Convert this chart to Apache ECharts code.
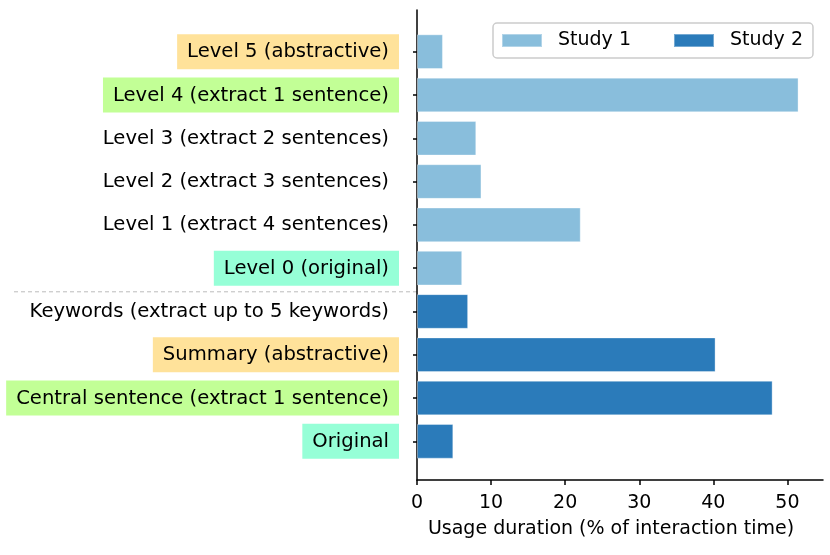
<!DOCTYPE html>
<html><head><meta charset="utf-8">
<script src="https://cdn.jsdelivr.net/npm/echarts@6/dist/echarts.min.js"></script>
<style>html,body{margin:0;padding:0;background:#fff}#c{width:830px;height:555px}</style>
</head><body><div id="c"></div>
<script>
// ---- data ----
const categories = [
  'Level 5 (abstractive)',
  'Level 4 (extract 1 sentence)',
  'Level 3 (extract 2 sentences)',
  'Level 2 (extract 3 sentences)',
  'Level 1 (extract 4 sentences)',
  'Level 0 (original)',
  'Keywords (extract up to 5 keywords)',
  'Summary (abstractive)',
  'Central sentence (extract 1 sentence)',
  'Original'
];
const study1 = [3.5, 51.5, 8.0, 8.7, 22.1, 6.1, null, null, null, null];
const study2 = [null, null, null, null, null, null, 6.9, 40.3, 48.0, 4.9];
const labelGroups = ['abstractive','extract1','plain','plain','plain','original','plain','abstractive','extract1','original'];
const xTicks = [0, 10, 20, 30, 40, 50];
const seriesNames = ['Study 1', 'Study 2'];
const xTitle = 'Usage duration (% of interaction time)';
const xMax = 54.8;

// ---- styles ----
const FONT = 'DejaVu Sans';
const colors = ['#89bedc', '#2b7bba'];
const hl = { abstractive: '#ffe29a', extract1: '#c2ff96', original: '#96ffd7' };
const tokenBase = { fontFamily: FONT, fontSize: 19.6, color: '#000', padding: [8, 10, 7, 10], lineHeight: 20 };
const rich = { plain: Object.assign({}, tokenBase) };
Object.keys(hl).forEach(k => { rich[k] = Object.assign({}, tokenBase, { backgroundColor: hl[k] }); });

const chart = echarts.init(document.getElementById('c'), null, { renderer: 'canvas' });
chart.setOption({
  animation: false,
  backgroundColor: '#fff',
  grid: [
    { left: 417, right: 7, top: 30, bottom: 92 },
    { left: 417, right: 7, top: 10, bottom: 75 }
  ],
  legend: {
    data: seriesNames, left: 493, top: 23, icon: 'rect',
    itemWidth: 40, itemHeight: 13, itemGap: 42,
    padding: [8, 10, 8, 8], borderColor: '#cccccc', borderWidth: 1.5, borderRadius: 4,
    backgroundColor: '#fff',
    textStyle: { fontFamily: FONT, fontSize: 19, color: '#000', padding: [0, 0, 0, 11] }
  },
  xAxis: [
    { type: 'value', gridIndex: 0, min: 0, max: xMax, show: false },
    {
      type: 'value', gridIndex: 1, min: 0, max: xMax,
      axisLine: { show: true, lineStyle: { color: '#000', width: 1.5 } },
      axisTick: { show: true, length: 5, lineStyle: { color: '#000', width: 1.5 }, customValues: xTicks },
      axisLabel: { margin: 14, fontFamily: FONT, fontSize: 19, color: '#000', customValues: xTicks },
      splitLine: { show: false },
      name: xTitle, nameLocation: 'middle', nameGap: 40,
      nameTextStyle: { fontFamily: FONT, fontSize: 19, color: '#000', padding: [0, 18, 0, 0] }
    }
  ],
  yAxis: [
    {
      type: 'category', gridIndex: 0, data: categories, inverse: true,
      axisLine: { show: false },
      axisTick: { show: true, alignWithLabel: true, length: 4, lineStyle: { color: '#000', width: 1.5 } },
      axisLabel: {
        margin: 18, interval: 0,
        formatter: (v, i) => '{' + labelGroups[i] + '|' + v + '}',
        rich: rich
      },
      splitLine: { show: false }
    },
    {
      type: 'value', gridIndex: 1, min: 0, max: 1,
      axisLine: { show: true, lineStyle: { color: '#000', width: 1.5 } },
      axisTick: { show: false }, axisLabel: { show: false }, splitLine: { show: false }
    }
  ],
  series: [
    {
      name: seriesNames[0], type: 'bar', xAxisIndex: 0, yAxisIndex: 0, data: study1,
      barWidth: '80%', barGap: '-100%',
      itemStyle: { color: colors[0], borderColor: 'rgba(255,255,255,0.35)', borderWidth: 1 }
    },
    {
      name: seriesNames[1], type: 'bar', xAxisIndex: 0, yAxisIndex: 0, data: study2,
      barWidth: '80%', barGap: '-100%',
      itemStyle: { color: colors[1], borderColor: 'rgba(255,255,255,0.35)', borderWidth: 1 }
    }
  ]
});

// dashed separator between the two studies' groups
const ya = chart.convertToPixel({ yAxisIndex: 0 }, categories[5]);
const yb = chart.convertToPixel({ yAxisIndex: 0 }, categories[6]);
const xa = chart.convertToPixel({ xAxisIndex: 0 }, 0);
const ySep = (ya + yb) / 2 + 2;
chart.setOption({
  graphic: [{
    type: 'line', silent: true, z: 0,
    shape: { x1: 14, y1: ySep, x2: xa, y2: ySep },
    style: { stroke: '#bbbbbb', lineWidth: 1, lineDash: [4, 3] }
  }]
});
</script>
</body></html>
